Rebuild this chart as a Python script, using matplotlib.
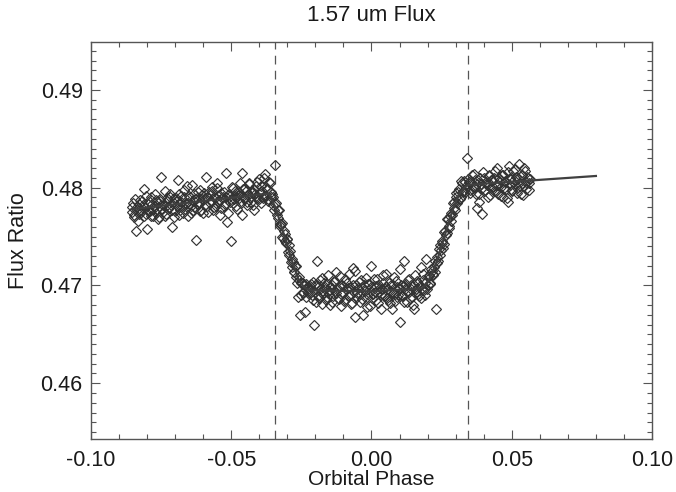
import matplotlib
matplotlib.use("Agg")
import matplotlib.pyplot as plt
from matplotlib.ticker import MultipleLocator, FormatStrFormatter

# =====================================================
# Data (orbital phase, flux ratio)
# two interleaved passes per segment
# =====================================================
pre_phase = [-0.0855, -0.0850, -0.0845, -0.0840, -0.0835, -0.0830, -0.0825, -0.0820, -0.0815, -0.0810,
             -0.0805, -0.0800, -0.0795, -0.0790, -0.0785, -0.0780, -0.0775, -0.0770, -0.0765, -0.0760,
             -0.0755, -0.0750, -0.0745, -0.0740, -0.0735, -0.0730, -0.0725, -0.0720, -0.0715, -0.0710,
             -0.0705, -0.0700, -0.0695, -0.0690, -0.0685, -0.0680, -0.0675, -0.0670, -0.0665, -0.0660,
             -0.0655, -0.0650, -0.0645, -0.0640, -0.0635, -0.0630, -0.0625, -0.0620, -0.0615, -0.0610,
             -0.0605, -0.0600, -0.0595, -0.0590, -0.0585, -0.0580, -0.0575, -0.0570, -0.0565, -0.0560,
             -0.0555, -0.0550, -0.0545, -0.0540, -0.0535, -0.0530, -0.0525, -0.0520, -0.0515, -0.0510,
             -0.0505, -0.0500, -0.0495, -0.0490, -0.0485, -0.0480, -0.0475, -0.0470, -0.0465, -0.0460,
             -0.0455, -0.0450, -0.0445, -0.0440, -0.0435, -0.0430, -0.0425, -0.0420, -0.0415, -0.0410,
             -0.0405, -0.0400, -0.0395, -0.0390, -0.0385, -0.0380, -0.0375, -0.0370, -0.0365, -0.0360]
pre_flux = [0.4775, 0.4784, 0.4770, 0.4756, 0.4780, 0.4773, 0.4787, 0.4777, 0.4782, 0.4799,
            0.4773, 0.4758, 0.4783, 0.4776, 0.4791, 0.4771, 0.4781, 0.4787, 0.4778, 0.4768,
            0.4786, 0.4811, 0.4775, 0.4783, 0.4771, 0.4789, 0.4778, 0.4794, 0.4782, 0.4760,
            0.4789, 0.4776, 0.4786, 0.4808, 0.4772, 0.4792, 0.4781, 0.4798, 0.4778, 0.4784,
            0.4771, 0.4792, 0.4781, 0.4803, 0.4777, 0.4788, 0.4747, 0.4796, 0.4784, 0.4776,
            0.4793, 0.4774, 0.4789, 0.4811, 0.4781, 0.4796, 0.4784, 0.4801, 0.4777, 0.4791,
            0.4781, 0.4800, 0.4787, 0.4772, 0.4795, 0.4790, 0.4781, 0.4815, 0.4765, 0.4793,
            0.4785, 0.4746, 0.4800, 0.4788, 0.4797, 0.4778, 0.4793, 0.4805, 0.4784, 0.4815,
            0.4789, 0.4800, 0.4782, 0.4793, 0.4805, 0.4785, 0.4797, 0.4777, 0.4794, 0.4802,
            0.4789, 0.4809, 0.4784, 0.4797, 0.4792, 0.4814, 0.4801, 0.4788, 0.4806, 0.4791]
pre_phase_2 = [-0.08525, -0.08475, -0.08425, -0.08375, -0.08325, -0.08275, -0.08225, -0.08175, -0.08125, -0.08075,
               -0.08025, -0.07975, -0.07925, -0.07875, -0.07825, -0.07775, -0.07725, -0.07675, -0.07625, -0.07575,
               -0.07525, -0.07475, -0.07425, -0.07375, -0.07325, -0.07275, -0.07225, -0.07175, -0.07125, -0.07075,
               -0.07025, -0.06975, -0.06925, -0.06875, -0.06825, -0.06775, -0.06725, -0.06675, -0.06625, -0.06575,
               -0.06525, -0.06475, -0.06425, -0.06375, -0.06325, -0.06275, -0.06225, -0.06175, -0.06125, -0.06075,
               -0.06025, -0.05975, -0.05925, -0.05875, -0.05825, -0.05775, -0.05725, -0.05675, -0.05625, -0.05575,
               -0.05525, -0.05475, -0.05425, -0.05375, -0.05325, -0.05275, -0.05225, -0.05175, -0.05125, -0.05075,
               -0.05025, -0.04975, -0.04925, -0.04875, -0.04825, -0.04775, -0.04725, -0.04675, -0.04625, -0.04575,
               -0.04525, -0.04475, -0.04425, -0.04375, -0.04325, -0.04275, -0.04225, -0.04175, -0.04125, -0.04075,
               -0.04025, -0.03975, -0.03925, -0.03875, -0.03825, -0.03775, -0.03725, -0.03675, -0.03625, -0.03575]
pre_flux_2 = [0.4780, 0.4772, 0.4788, 0.4777, 0.4766, 0.4783, 0.4775, 0.4786, 0.4771, 0.4779,
              0.4792, 0.4776, 0.4786, 0.4771, 0.4783, 0.4778, 0.4794, 0.4774, 0.4784, 0.4770,
              0.4788, 0.4778, 0.4782, 0.4797, 0.4773, 0.4786, 0.4780, 0.4790, 0.4777, 0.4785,
              0.4770, 0.4789, 0.4781, 0.4794, 0.4777, 0.4785, 0.4774, 0.4790, 0.4783, 0.4802,
              0.4781, 0.4790, 0.4774, 0.4787, 0.4794, 0.4779, 0.4789, 0.4783, 0.4798, 0.4777,
              0.4788, 0.4795, 0.4782, 0.4790, 0.4775, 0.4793, 0.4786, 0.4797, 0.4780, 0.4789,
              0.4805, 0.4785, 0.4793, 0.4779, 0.4789, 0.4796, 0.4783, 0.4791, 0.4774, 0.4794,
              0.4788, 0.4801, 0.4784, 0.4792, 0.4781, 0.4797, 0.4789, 0.4794, 0.4772, 0.4799,
              0.4789, 0.4797, 0.4785, 0.4804, 0.4790, 0.4795, 0.4782, 0.4798, 0.4792, 0.4806,
              0.4788, 0.4795, 0.4802, 0.4789, 0.4810, 0.4792, 0.4799, 0.4786, 0.4805, 0.4796]

ingress_phase = [-0.0355, -0.0350, -0.0345, -0.0340, -0.0335, -0.0330, -0.0325, -0.0320, -0.0315,
                 -0.0310, -0.0305, -0.0300, -0.0295, -0.0290, -0.0285, -0.0280, -0.0275, -0.0270,
                 -0.0265, -0.0260, -0.0255, -0.0250, -0.0245, -0.0240, -0.0235, -0.0230, -0.0225]
ingress_flux = [0.4794, 0.4782, 0.4823, 0.4784, 0.4769, 0.4777, 0.4761, 0.4764, 0.4749,
                0.4753, 0.4743, 0.4748, 0.4731, 0.4735, 0.4719, 0.4724, 0.4714, 0.4720,
                0.4703, 0.4709, 0.4670, 0.4703, 0.4693, 0.4702, 0.4688, 0.4697, 0.4692]
ingress_phase_2 = [-0.03525, -0.03475, -0.03425, -0.03375, -0.03325, -0.03275, -0.03225, -0.03175, -0.03125,
                   -0.03075, -0.03025, -0.02975, -0.02925, -0.02875, -0.02825, -0.02775, -0.02725, -0.02675,
                   -0.02625, -0.02575, -0.02525, -0.02475, -0.02425, -0.02375, -0.02325, -0.02275]
ingress_flux_2 = [0.4791, 0.4777, 0.4783, 0.4772, 0.4777, 0.4763, 0.4763, 0.4750, 0.4756,
                  0.4746, 0.4748, 0.4734, 0.4741, 0.4724, 0.4727, 0.4714, 0.4720, 0.4709,
                  0.4688, 0.4706, 0.4690, 0.4703, 0.4692, 0.4673, 0.4702, 0.4694]

eclipse_phase = [-0.0220, -0.0215, -0.0210, -0.0205, -0.0200, -0.0195, -0.0190, -0.0185, -0.0180, -0.0175,
                 -0.0170, -0.0165, -0.0160, -0.0155, -0.0150, -0.0145, -0.0140, -0.0135, -0.0130, -0.0125,
                 -0.0120, -0.0115, -0.0110, -0.0105, -0.0100, -0.0095, -0.0090, -0.0085, -0.0080, -0.0075,
                 -0.0070, -0.0065, -0.0060, -0.0055, -0.0050, -0.0045, -0.0040, -0.0035, -0.0030, -0.0025,
                 -0.0020, -0.0015, -0.0010, -0.0005, 0.0000, 0.0005, 0.0010, 0.0015, 0.0020, 0.0025,
                 0.0030, 0.0035, 0.0040, 0.0045, 0.0050, 0.0055, 0.0060, 0.0065, 0.0070, 0.0075,
                 0.0080, 0.0085, 0.0090, 0.0095, 0.0100, 0.0105, 0.0110, 0.0115, 0.0120, 0.0125,
                 0.0130, 0.0135, 0.0140, 0.0145, 0.0150, 0.0155, 0.0160, 0.0165, 0.0170, 0.0175,
                 0.0180, 0.0185, 0.0190, 0.0195]
eclipse_flux = [0.4692, 0.4702, 0.4685, 0.4660, 0.4700, 0.4725, 0.4689, 0.4706, 0.4693, 0.4681,
                0.4703, 0.4696, 0.4688, 0.4711, 0.4691, 0.4698, 0.4683, 0.4704, 0.4694, 0.4714,
                0.4687, 0.4699, 0.4679, 0.4701, 0.4692, 0.4707, 0.4686, 0.4697, 0.4712, 0.4690,
                0.4682, 0.4718, 0.4668, 0.4701, 0.4692, 0.4704, 0.4683, 0.4698, 0.4670, 0.4695,
                0.4708, 0.4688, 0.4702, 0.4679, 0.4720, 0.4691, 0.4699, 0.4685, 0.4707, 0.4693,
                0.4697, 0.4676, 0.4703, 0.4689, 0.4712, 0.4687, 0.4696, 0.4682, 0.4700, 0.4692,
                0.4709, 0.4684, 0.4698, 0.4690, 0.4663, 0.4701, 0.4689, 0.4725, 0.4696, 0.4683,
                0.4706, 0.4693, 0.4701, 0.4688, 0.4676, 0.4711, 0.4696, 0.4703, 0.4689, 0.4719,
                0.4695, 0.4706, 0.4690, 0.4727]
eclipse_phase_2 = [-0.02175, -0.02125, -0.02075, -0.02025, -0.01975, -0.01925, -0.01875, -0.01825, -0.01775, -0.01725,
                   -0.01675, -0.01625, -0.01575, -0.01525, -0.01475, -0.01425, -0.01375, -0.01325, -0.01275, -0.01225,
                   -0.01175, -0.01125, -0.01075, -0.01025, -0.00975, -0.00925, -0.00875, -0.00825, -0.00775, -0.00725,
                   -0.00675, -0.00625, -0.00575, -0.00525, -0.00475, -0.00425, -0.00375, -0.00325, -0.00275, -0.00225,
                   -0.00175, -0.00125, -0.00075, -0.00025, 0.00025, 0.00075, 0.00125, 0.00175, 0.00225, 0.00275,
                   0.00325, 0.00375, 0.00425, 0.00475, 0.00525, 0.00575, 0.00625, 0.00675, 0.00725, 0.00775,
                   0.00825, 0.00875, 0.00925, 0.00975, 0.01025, 0.01075, 0.01125, 0.01175, 0.01225, 0.01275,
                   0.01325, 0.01375, 0.01425, 0.01475, 0.01525, 0.01575, 0.01625, 0.01675, 0.01725, 0.01775,
                   0.01825, 0.01875, 0.01925, 0.01975]
eclipse_flux_2 = [0.4699, 0.4690, 0.4704, 0.4693, 0.4683, 0.4701, 0.4687, 0.4696, 0.4708, 0.4691,
                  0.4698, 0.4685, 0.4702, 0.4694, 0.4680, 0.4700, 0.4689, 0.4705, 0.4692, 0.4697,
                  0.4686, 0.4710, 0.4691, 0.4699, 0.4684, 0.4696, 0.4703, 0.4689, 0.4698, 0.4681,
                  0.4701, 0.4693, 0.4715, 0.4688, 0.4697, 0.4691, 0.4706, 0.4686, 0.4700, 0.4694,
                  0.4678, 0.4702, 0.4692, 0.4698, 0.4687, 0.4707, 0.4693, 0.4699, 0.4682, 0.4701,
                  0.4690, 0.4696, 0.4711, 0.4689, 0.4698, 0.4685, 0.4703, 0.4694, 0.4676, 0.4700,
                  0.4691, 0.4705, 0.4688, 0.4697, 0.4717, 0.4690, 0.4699, 0.4683, 0.4702, 0.4693,
                  0.4707, 0.4687, 0.4696, 0.4680, 0.4701, 0.4693, 0.4705, 0.4691, 0.4699, 0.4687,
                  0.4712, 0.4695, 0.4703, 0.4696]

egress_phase = [0.0200, 0.0205, 0.0210, 0.0215, 0.0220, 0.0225, 0.0230, 0.0235, 0.0240, 0.0245,
                0.0250, 0.0255, 0.0260, 0.0265, 0.0270, 0.0275, 0.0280, 0.0285, 0.0290, 0.0295,
                0.0300, 0.0305, 0.0310, 0.0315, 0.0320, 0.0325, 0.0330, 0.0335, 0.0340]
egress_flux = [0.4700, 0.4711, 0.4702, 0.4715, 0.4712, 0.4725, 0.4676, 0.4723, 0.4737, 0.4731,
               0.4743, 0.4738, 0.4755, 0.4752, 0.4768, 0.4759, 0.4771, 0.4766, 0.4784, 0.4779,
               0.4795, 0.4784, 0.4796, 0.4788, 0.4807, 0.4797, 0.4807, 0.4796, 0.4830]
egress_phase_2 = [0.02025, 0.02075, 0.02125, 0.02175, 0.02225, 0.02275, 0.02325, 0.02375, 0.02425, 0.02475,
                  0.02525, 0.02575, 0.02625, 0.02675, 0.02725, 0.02775, 0.02825, 0.02875, 0.02925, 0.02975,
                  0.03025, 0.03075, 0.03125, 0.03175, 0.03225, 0.03275, 0.03325, 0.03375]
egress_flux_2 = [0.4709, 0.4703, 0.4717, 0.4711, 0.4719, 0.4714, 0.4729, 0.4725, 0.4741, 0.4736,
                 0.4746, 0.4742, 0.4756, 0.4754, 0.4768, 0.4761, 0.4774, 0.4772, 0.4785, 0.4777,
                 0.4791, 0.4787, 0.4799, 0.4791, 0.4805, 0.4796, 0.4806, 0.4800]

post_phase = [0.0345, 0.0350, 0.0355, 0.0360, 0.0365, 0.0370, 0.0375, 0.0380, 0.0385, 0.0390,
              0.0395, 0.0400, 0.0405, 0.0410, 0.0415, 0.0420, 0.0425, 0.0430, 0.0435, 0.0440,
              0.0445, 0.0450, 0.0455, 0.0460, 0.0465, 0.0470, 0.0475, 0.0480, 0.0485, 0.0490,
              0.0495, 0.0500, 0.0505, 0.0510, 0.0515, 0.0520, 0.0525, 0.0530, 0.0535, 0.0540,
              0.0545, 0.0550, 0.0555, 0.0560, 0.0565]
post_flux = [0.4809, 0.4795, 0.4806, 0.4799, 0.4814, 0.4801, 0.4779, 0.4808, 0.4794, 0.4804,
             0.4773, 0.4810, 0.4798, 0.4805, 0.4791, 0.4812, 0.4800, 0.4808, 0.4797, 0.4817,
             0.4803, 0.4794, 0.4810, 0.4801, 0.4813, 0.4790, 0.4807, 0.4799, 0.4785, 0.4822,
             0.4809, 0.4798, 0.4817, 0.4804, 0.4811, 0.4795, 0.4824, 0.4802, 0.4813, 0.4793,
             0.4820, 0.4806, 0.4811, 0.4798, 0.4809]
post_phase_2 = [0.03475, 0.03525, 0.03575, 0.03625, 0.03675, 0.03725, 0.03775, 0.03825, 0.03875, 0.03925,
                0.03975, 0.04025, 0.04075, 0.04125, 0.04175, 0.04225, 0.04275, 0.04325, 0.04375, 0.04425,
                0.04475, 0.04525, 0.04575, 0.04625, 0.04675, 0.04725, 0.04775, 0.04825, 0.04875, 0.04925,
                0.04975, 0.05025, 0.05075, 0.05125, 0.05175, 0.05225, 0.05275, 0.05325, 0.05375, 0.05425,
                0.05475, 0.05525, 0.05575, 0.05625]
post_flux_2 = [0.4806, 0.4798, 0.4813, 0.4801, 0.4808, 0.4794, 0.4804, 0.4785, 0.4810, 0.4800,
               0.4816, 0.4797, 0.4806, 0.4803, 0.4813, 0.4793, 0.4808, 0.4801, 0.4810, 0.4797,
               0.4820, 0.4803, 0.4808, 0.4792, 0.4813, 0.4800, 0.4806, 0.4789, 0.4816, 0.4803,
               0.4811, 0.4797, 0.4808, 0.4819, 0.4800, 0.4810, 0.4805, 0.4794, 0.4813, 0.4802,
               0.4817, 0.4799, 0.4810, 0.4805]

# eclipse model curve
model_phase = [-0.0855, -0.0400, -0.0365, -0.0340, -0.0310, -0.0280, -0.0260, -0.0240, -0.0220,
               0.0000, 0.0180, 0.0200, 0.0230, 0.0260, 0.0290, 0.0310, 0.0330, 0.0345, 0.0800]
model_flux = [0.4778, 0.4793, 0.4794, 0.4778, 0.4750, 0.4722, 0.4706, 0.4698, 0.4695,
              0.4694, 0.4697, 0.4703, 0.4722, 0.4750, 0.4778, 0.4792, 0.4800, 0.4803, 0.4812]

contact_phase = [-0.0344, 0.0343]

# =====================================================
# Plot
# =====================================================
plt.rcParams['font.family'] = ['Liberation Sans', 'DejaVu Sans']

fig = plt.figure(figsize=(6.76, 4.92), dpi=100)
ax = fig.add_axes([0.1346, 0.1077, 0.8299, 0.8069])

phase = (pre_phase + pre_phase_2 + ingress_phase + ingress_phase_2 + eclipse_phase
         + eclipse_phase_2 + egress_phase + egress_phase_2 + post_phase + post_phase_2)
flux = (pre_flux + pre_flux_2 + ingress_flux + ingress_flux_2 + eclipse_flux
        + eclipse_flux_2 + egress_flux + egress_flux_2 + post_flux + post_flux_2)

ax.plot(phase, flux, linestyle='none', marker='D', markersize=5.2,
        markerfacecolor='none', markeredgecolor='#333333', markeredgewidth=0.85, zorder=2)
ax.plot(model_phase, model_flux, color='#404040', linewidth=1.6, zorder=3)

for c in contact_phase:
    ax.axvline(c, color='#555555', linewidth=0.9, linestyle=(0, (7, 5)), zorder=1)

ax.set_xlim(-0.10, 0.10)
ax.set_ylim(0.4543, 0.4949)

ax.xaxis.set_major_locator(MultipleLocator(0.05))
ax.xaxis.set_minor_locator(MultipleLocator(0.01))
ax.yaxis.set_major_locator(MultipleLocator(0.01))
ax.yaxis.set_minor_locator(MultipleLocator(0.001))
ax.xaxis.set_major_formatter(FormatStrFormatter('%.2f'))
ax.yaxis.set_major_formatter(FormatStrFormatter('%.2f'))

ax.tick_params(which='both', direction='in', top=True, right=True, colors='#555555',
               labelcolor='#1a1a1a', labelsize=15.5, width=0.8)
ax.tick_params(which='major', length=6.5)
ax.tick_params(which='minor', length=3.5)
ax.tick_params(axis='x', which='major', pad=8)
ax.tick_params(axis='y', which='major', pad=6)
for s in ax.spines.values():
    s.set_color('#555555')
    s.set_linewidth(1.0)

ax.set_title('1.57 um Flux', fontsize=16, color='#1a1a1a', pad=15)
ax.set_xlabel('Orbital Phase', fontsize=15, color='#1a1a1a', labelpad=-1)
ax.set_ylabel('Flux Ratio', fontsize=15.5, color='#1a1a1a', labelpad=8)

plt.savefig('out.png', dpi=100)
